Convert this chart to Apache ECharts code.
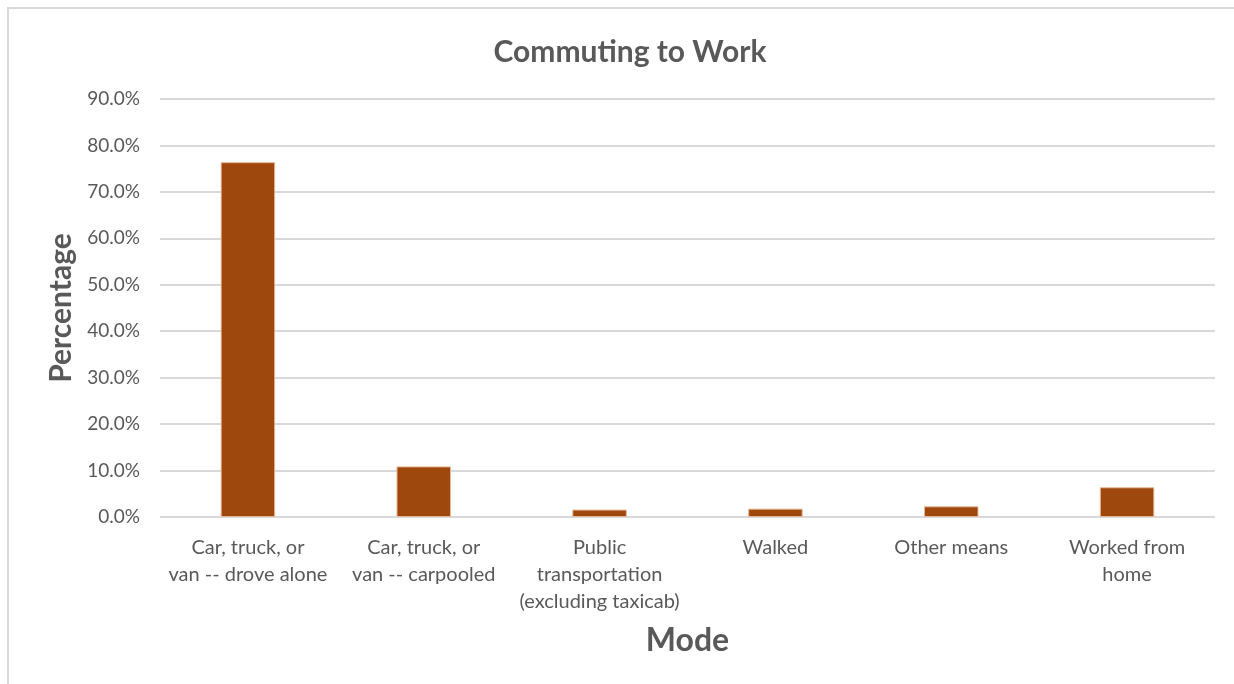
<!DOCTYPE html>
<html>
<head>
<meta charset="utf-8">
<title>Commuting to Work</title>
<script src="https://cdn.jsdelivr.net/npm/echarts@6/dist/echarts.min.js"></script>
<style>
  html, body { margin: 0; padding: 0; background: #fff; }
  #main { width: 1234px; height: 684px; }
</style>
</head>
<body>
<div id="main"></div>
<script>
// categories and values (percent)
var categories = [
  'Car, truck, or\nvan -- drove alone',
  'Car, truck, or\nvan -- carpooled',
  'Public\ntransportation\n(excluding taxicab)',
  'Walked',
  'Other means',
  'Worked from\nhome'
]
var percentValues = [76.4, 10.9, 1.6, 1.8, 2.3, 6.4]
var yTicks = [0, 10, 20, 30, 40, 50, 60, 70, 80, 90]

var textColor = '#595959'
var font = 'Lato, "Open Sans", sans-serif'

var myChart = echarts.init(document.getElementById('main'))

var option = {
  backgroundColor: '#fff',
  animation: false,
  title: {
    text: 'Commuting to Work',
    left: 625,
    top: 32,
    textAlign: 'center',
    textStyle: { fontFamily: font, fontSize: 30, fontWeight: 'bold', color: textColor }
  },
  // chart frame like the original
  graphic: [{
    type: 'rect',
    shape: { x: 8, y: 8, width: 1240, height: 690 },
    style: { fill: 'none', stroke: '#d9d9d9', lineWidth: 2 },
    silent: true
  }],
  grid: { left: 160, right: 19, top: 99, bottom: 167 },
  xAxis: {
    type: 'category',
    data: categories,
    name: 'Mode',
    nameLocation: 'middle',
    nameGap: 108,
    nameTextStyle: { fontFamily: font, fontSize: 32, fontWeight: 'bold', color: textColor },
    axisLine: { show: false },
    axisTick: { show: false },
    axisLabel: {
      interval: 0,
      margin: 17,
      fontFamily: font,
      fontSize: 20,
      lineHeight: 27,
      color: textColor
    }
  },
  yAxis: {
    type: 'value',
    min: yTicks[0],
    max: yTicks[yTicks.length - 1],
    interval: 10,
    name: 'Percentage',
    nameLocation: 'middle',
    nameGap: 84,
    nameTextStyle: { fontFamily: font, fontSize: 30, fontWeight: 'bold', color: textColor },
    axisLine: { show: false },
    axisTick: { show: false },
    splitLine: { lineStyle: { color: '#d9d9d9', width: 2 } },
    axisLabel: {
      margin: 20,
      fontFamily: font,
      fontSize: 19,
      color: textColor,
      formatter: function(v) { return v.toFixed(1) + '%' }
    }
  },
  series: [{
    type: 'bar',
    data: percentValues,
    barWidth: '31%',
    itemStyle: { color: '#9e480e', borderColor: '#e8b796', borderWidth: 1 }
  }]
}

myChart.setOption(option, true)
window.onresize = () => {
  myChart.resize()
}
</script>
</body>
</html>
